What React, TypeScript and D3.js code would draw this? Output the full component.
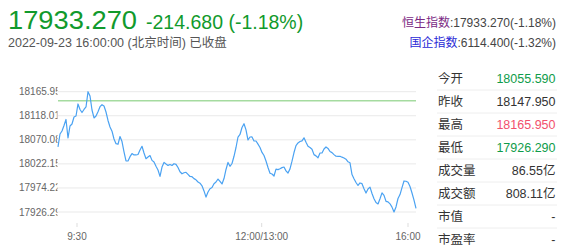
import React from "react";
import * as d3 from "d3";

const prices: number[] = [
  18056, 18081.7, 18087.7, 18098.6, 18110.6, 18073.7, 18097.6, 18101.6, 18115.5, 18117.5,
  18141.5, 18130.5, 18124.5, 18130.5, 18135.5, 18165.9, 18157.4, 18129.5, 18113.6, 18117.5,
  18126.1, 18136.1, 18140.0, 18137.5, 18125.5, 18108.6, 18095.6, 18087.3, 18071.7, 18062.4,
  18061.2, 18076.7, 18066.7, 18046.2, 18027.9, 18027.9, 18036.5, 18042.6, 18039.9, 18039.9,
  18040.8, 18049.8, 18057.2, 18043.8, 18032.5, 18035.9, 18038.8, 18029.1, 18025.9, 18017.3,
  18010.0, 17997.4, 18015.9, 18025.1, 18021.9, 18019.1, 18020.9, 18018.9, 18022.5, 18021.3,
  18014.9, 18006.4, 18002.4, 18004.4, 18005.4, 18001.2, 17997.0, 17996.6, 17992.8, 17990.4,
  17986.1, 17983.7, 17978.5, 17968.3, 17956.0, 17966.1, 17972.5, 17974.9, 17982.7, 17986.1,
  17992.0, 17987.2, 17982.1, 17993.0, 18011.0, 18025.1, 18017.3, 18022.9, 18037.3, 18054.8,
  18075.7, 18080.7, 18094.6, 18102.2, 18090.0, 18069.7, 18075.7, 18075.9, 18067.7, 18067.7,
  18061.4, 18054.8, 18045.0, 18038.8, 18027.9, 18014.9, 18003.4, 18002.0, 17998.0, 18011.6,
  18010.8, 18012.4, 18014.7, 18015.9, 18008.2, 18004.0, 18012.2, 18027.5, 18044.8, 18058.6,
  18063.9, 18066.7, 18067.9, 18074.1, 18065.1, 18057.4, 18054.8, 18051.4, 18040.6, 18038.1,
  18034.3, 18043.8, 18043.8, 18051.8, 18055.8, 18053.0, 18046.8, 18044.6, 18040.6, 18037.5,
  18037.3, 18037.3, 18035.5, 18033.9, 18031.5, 18026.3, 18024.3, 18000.8, 17992.6, 17985.0,
  17979.1, 17984.1, 17982.7, 17972.5, 17964.1, 17972.1, 17975.9, 17963.2, 17952.8, 17945.2,
  17942.4, 17952.8, 17964.5, 17959.4, 17947.6, 17946.6, 17942.6, 17936.0, 17926.3, 17936.4,
  17953.2, 17961.0, 17974.9, 17988.1, 17987.5, 17985.5, 17977.1, 17964.1, 17949.8, 17933.3,
];

const prevClose = 18147.95;
const high = 18165.95;
const low = 17926.29;

const xTickIndex: number[] = [9.5, 101.85, 175];
const xTickLabels: string[] = ["9:30", "12:00/13:00", "16:00"];

const tableLabels: string[] = ["今开", "昨收", "最高", "最低", "成交量", "成交额", "市值", "市盈率"];
const tableValues: string[] = ["18055.590", "18147.950", "18165.950", "17926.290", "86.55亿", "808.11亿", "-", "-"];
const tableKinds: string[] = ["down", "flat", "up", "down", "flat", "flat", "flat", "flat"];

const FONT = "'Liberation Sans', Arial, 'Noto Sans CJK SC', sans-serif";
const GREEN = "#119a2c";

export default function App() {
  const W = 566, H = 247;
  const x = d3.scaleLinear().domain([0, prices.length - 1]).range([58, 416]);
  const y = d3.scaleLinear().domain([low, high]).range([212, 91.7]);
  const yTicks = d3.range(6).map((i) => high - (i * (high - low)) / 5);
  const line = d3.line<number>().x((_, i) => x(i)).y((d) => y(d));
  const rowY = d3.scaleLinear().domain([0, 1]).range([78.5, 101.5]);
  const kindColor = (k: string) => (k === "up" ? "#f2506c" : k === "down" ? "#0f9c4a" : "#333");

  return (
    <svg width={W} height={H} style={{ position: "absolute", left: 0, top: 0, background: "#fff" }} fontFamily={FONT}>
      <defs>
        <clipPath id="ylab">
          <rect x={0} y={80} width={57.5} height={140} />
        </clipPath>
      </defs>
      {/* header */}
      <text x={8} y={28.5} fontSize={26.5} fill={GREEN} textLength={129} lengthAdjust="spacingAndGlyphs">17933.270</text>
      <text x={146} y={28.5} fontSize={19.5} fill={GREEN}>-214.680 (-1.18%)</text>
      <text x={8} y={47} fontSize={12.5} fill="#555">2022-09-23 16:00:00 (北京时间) 已收盘</text>
      <text x={556} y={26.5} fontSize={12} textAnchor="end" fill="#444">
        <tspan fill="#7b2a84">恒生指数</tspan>:17933.270(-1.18%)
      </text>
      <text x={556} y={46.5} fontSize={12} textAnchor="end" fill="#444">
        <tspan fill="#2a2ad6">国企指数</tspan>:6114.400(-1.32%)
      </text>

      {/* grid */}
      {yTicks.map((t, i) => (
        <line key={i} x1={58} x2={416} y1={y(t)} y2={y(t)} stroke="#e9e9e9" strokeWidth={1} />
      ))}
      <g clipPath="url(#ylab)">
        {yTicks.map((t, i) => (
          <text key={i} x={19} y={y(t) + 3.5} fontSize={10} fill="#666">{t.toFixed(3)}</text>
        ))}
      </g>
      <line x1={58} x2={416} y1={y(prevClose)} y2={y(prevClose)} stroke="#a5dba0" strokeWidth={1.5} />
      <path d={line(prices) || ""} fill="none" stroke="#4aa2f2" strokeWidth={1.2} strokeLinejoin="round" />

      {/* x axis */}
      {xTickIndex.map((t, i) => (
        <g key={i}>
          <line x1={x(t)} x2={x(t)} y1={223} y2={227} stroke="#ddd" />
          <text x={x(t)} y={239.5} fontSize={10} textAnchor="middle" fill="#666">{xTickLabels[i]}</text>
        </g>
      ))}

      {/* table */}
      {tableLabels.map((lab, i) => (
        <g key={lab}>
          <text x={438} y={rowY(i) + 4.3} fontSize={12.5} fill="#333">{lab}</text>
          <text x={555.5} y={rowY(i) + 4.3} fontSize={12.5} textAnchor="end" fill={kindColor(tableKinds[i])}>{tableValues[i]}</text>
          {i < tableLabels.length - 1 && (
            <line x1={437} x2={557} y1={rowY(i) + 11.5} y2={rowY(i) + 11.5} stroke="#eee" />
          )}
        </g>
      ))}
    </svg>
  );
}
